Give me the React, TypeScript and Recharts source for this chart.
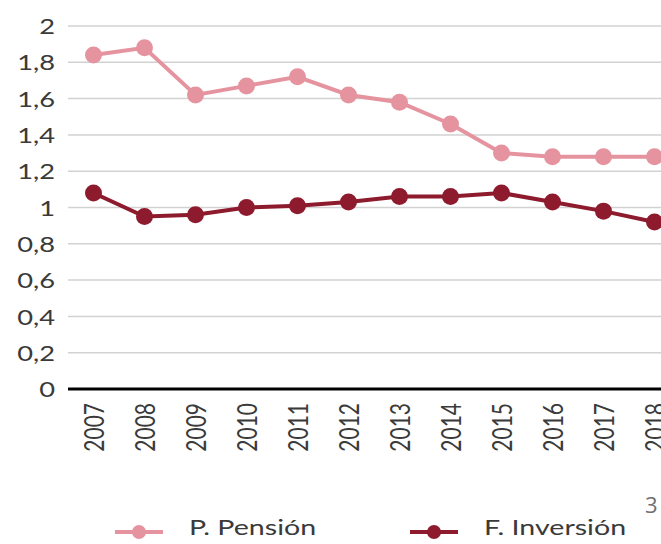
import { CartesianGrid, Line, LineChart, XAxis, YAxis } from 'recharts'

const YEARS = ['2007', '2008', '2009', '2010', '2011', '2012', '2013', '2014', '2015', '2016', '2017', '2018']
const PENSION = [1.84, 1.88, 1.62, 1.67, 1.72, 1.62, 1.58, 1.46, 1.3, 1.28, 1.28, 1.28]
const INVERSION = [1.08, 0.95, 0.96, 1.0, 1.01, 1.03, 1.06, 1.06, 1.08, 1.03, 0.98, 0.92]
const Y_TICKS = [0, 0.2, 0.4, 0.6, 0.8, 1, 1.2, 1.4, 1.6, 1.8, 2]

const SERIES = [
  { key: 'pension', name: 'P. Pensión', color: '#E5949F' },
  { key: 'inversion', name: 'F. Inversión', color: '#8D1B2D' },
]

const FONT = 'Lato, sans-serif'
const TEXT = '#3a3a3a'
const STRETCH = 1.3 // el original está estirado en horizontal

const data = YEARS.map((y, i) => ({ year: y, pension: PENSION[i], inversion: INVERSION[i] }))

function coma(v: number): string {
  return String(Math.round(v * 10) / 10).replace('.', ',')
}

function YTick({ x, y, payload }: any) {
  return (
    <g transform={`translate(${x},${y}) scale(${STRETCH},1)`}>
      <text textAnchor="end" dominantBaseline="central" fontSize={21} fontFamily={FONT} fill={TEXT}>
        {coma(payload.value)}
      </text>
    </g>
  )
}

function XTick({ x, y, payload }: any) {
  return (
    <g transform={`translate(${x},${y}) scale(${STRETCH},1) rotate(-90)`}>
      <text textAnchor="end" dominantBaseline="central" fontSize={21} fontFamily={FONT} fill={TEXT}>
        {payload.value}
      </text>
    </g>
  )
}

const LEGEND_X = [115, 410]

export default function App() {
  return (
    <div style={{ position: 'absolute', left: 0, top: 0, width: 661, height: 544, overflow: 'hidden', background: '#fff' }}>
      <LineChart width={700} height={544} data={data} margin={{ top: 26, right: 20, left: 0, bottom: 75 }}>
        <CartesianGrid horizontal vertical={false} stroke="#d2d2d2" strokeWidth={1.5} />
        <XAxis
          dataKey="year"
          height={80}
          interval={0}
          padding={{ left: 25.5, right: 25.5 }}
          tick={<XTick />}
          tickLine={false}
          tickSize={0}
          tickMargin={14}
          axisLine={{ stroke: '#000', strokeWidth: 3 }}
        />
        <YAxis
          width={68}
          domain={[0, 2]}
          ticks={Y_TICKS}
          tick={<YTick />}
          tickLine={false}
          tickSize={0}
          tickMargin={13}
          axisLine={false}
        />
        {SERIES.map((s) => (
          <Line
            key={s.key}
            dataKey={s.key}
            name={s.name}
            stroke={s.color}
            strokeWidth={4}
            dot={{ r: 8.5, fill: s.color, stroke: s.color, strokeWidth: 0 }}
            isAnimationActive={false}
          />
        ))}
      </LineChart>
      <svg width={661} height={544} style={{ position: 'absolute', left: 0, top: 0, pointerEvents: 'none' }}>
        {SERIES.map((s, i) => (
          <g key={s.key}>
            <line x1={LEGEND_X[i]} x2={LEGEND_X[i] + 48} y1={532} y2={532} stroke={s.color} strokeWidth={4} />
            <circle cx={LEGEND_X[i] + 24} cy={532} r={7} fill={s.color} />
            <g transform={`translate(${LEGEND_X[i] + 74},535) scale(${STRETCH},1)`}>
              <text fontSize={22} fontFamily={FONT} fill={TEXT}>
                {s.name}
              </text>
            </g>
          </g>
        ))}
        <text x={645} y={513} fontSize={22} fontFamily="'Open Sans', sans-serif" fill="#707070">
          3
        </text>
      </svg>
    </div>
  )
}
